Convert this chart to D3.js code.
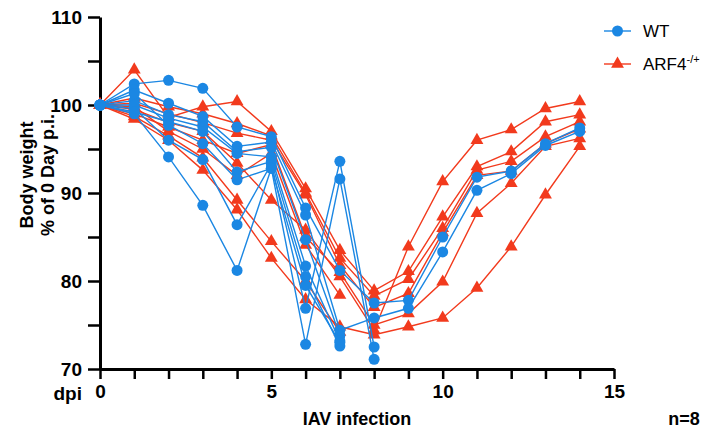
<!DOCTYPE html>
<html>
<head>
<meta charset="utf-8">
<script src="https://cdn.jsdelivr.net/npm/d3@7"></script>
<style>
  body { margin: 0; background: #fff; font-family: "Liberation Sans", Arial, Helvetica, sans-serif; }
  .axis text { font-weight: bold; font-size: 19px; fill: #000; font-family: "Liberation Sans", Arial, sans-serif; }
  .axis path, .axis line { stroke: #000; }
</style>
</head>
<body>
<svg id="chart" width="704" height="432"></svg>
<script>
// days post infection
const days = [0, 1, 2, 3, 4, 5, 6, 7, 8, 9, 10, 11, 12, 13, 14];

// WT mice, body weight (% of day 0); null = no measurement
const wtSeries = [
  [100, 102.4, 102.8, 101.9, 97.5, 96.4, 88.3, 81.2, 77.5, 77.8, 85.0, 91.8, 92.5, 95.6, 97.4],
  [100, 101.7, 100.2, 98.7, 95.3, 95.8, 87.5, 74.4, 75.8, 76.9, 83.3, 90.3, 92.2, 95.4, 97.0],
  [100, 99.0, 94.1, 88.6, 81.2, 92.8, 72.8, 91.6, 71.1, null, null, null, null, null, null],
  [100, 99.6, 96.0, 93.8, 86.4, 93.3, 76.9, 93.6, 72.5, null, null, null, null, null, null],
  [100, 100.5, 98.9, 98.1, 94.7, 95.2, 84.7, 73.8, null, null, null, null, null, null, null],
  [100, 100.0, 98.5, 97.5, 94.5, 94.1, 81.7, 73.2, null, null, null, null, null, null, null],
  [100, 99.2, 98.1, 97.0, 92.4, 93.6, 80.5, 72.6, null, null, null, null, null, null, null],
  [100, 101.3, 97.7, 95.6, 91.5, 92.8, 79.5, 73.0, null, null, null, null, null, null, null]
];

// ARF4 -/+ mice
const arfSeries = [
  [100, 99.5, 98.0, 97.0, 93.4, 89.2, 85.8, 80.5, 74.4, 83.9, 91.3, 96.0, 97.2, 99.6, 100.4],
  [100, 104.0, 98.6, 99.8, 100.4, 97.0, 90.5, 83.5, 78.9, 81.1, 87.3, 93.0, 94.7, 98.1, 98.9],
  [100, 100.8, 99.8, 99.0, 97.9, 96.5, 90.0, 82.6, 78.3, 80.2, 86.0, 92.6, 93.6, 96.4, 98.1],
  [100, 100.2, 99.0, 98.0, 96.8, 96.0, 89.8, 81.8, 77.0, 78.6, 85.5, 92.0, 92.5, 95.6, 97.3],
  [100, 99.0, 97.5, 96.0, 94.5, 95.5, 85.0, 81.0, 75.0, 76.3, 79.9, 87.7, 91.1, 95.3, 96.2],
  [100, 98.4, 96.0, 92.6, 88.1, 82.6, 77.9, 74.8, 73.9, 74.8, 75.8, 79.2, 83.9, 89.8, 95.3],
  [100, 99.8, 97.0, 95.0, 92.0, 94.5, 84.1, 78.4, null, null, null, null, null, null, null],
  [100, 98.7, 96.5, 94.0, 89.2, 84.5, 80.0, 74.2, null, null, null, null, null, null, null]
];

const yTicks = [70, 75, 80, 85, 90, 95, 100, 105, 110];
const xTicks = [0, 1, 2, 3, 4, 5, 6, 7, 8, 9, 10, 11, 12, 13, 14, 15];

const blue = "#1b87e3";
const red = "#f23a1d";

let svg = d3.select("#chart");

let xScale = d3.scaleLinear().domain([0, 15]).range([100, 614]);
let yScale = d3.scaleLinear().domain([70, 110]).range([369, 17]);

// axes
let axisY = d3.axisLeft(yScale)
  .tickValues(yTicks)
  .tickSize(12)
  .tickSizeOuter(0)
  .tickPadding(6)
  .tickFormat(d => d % 10 === 0 ? d : "");

let gy = svg.append("g")
  .attr("class", "axis")
  .attr("transform", "translate(100,0)")
  .call(axisY);
gy.select(".domain").attr("stroke-width", 3);
gy.selectAll(".tick line").attr("stroke-width", 2.5);

let axisX = d3.axisBottom(xScale)
  .tickValues(xTicks)
  .tickSize(10)
  .tickSizeOuter(0)
  .tickPadding(6)
  .tickFormat(d => d % 5 === 0 ? d : "");

let gx = svg.append("g")
  .attr("class", "axis")
  .attr("transform", "translate(0,369)")
  .call(axisX);
gx.select(".domain").attr("stroke-width", 3);
gx.selectAll(".tick line").attr("stroke-width", 2.5);

// axis titles
svg.append("text")
  .attr("x", 82).attr("y", 400)
  .attr("text-anchor", "end")
  .attr("font-weight", "bold").attr("font-size", 19)
  .text("dpi");

svg.append("text")
  .attr("x", 357).attr("y", 425)
  .attr("text-anchor", "middle")
  .attr("font-weight", "bold").attr("font-size", 18)
  .text("IAV infection");

svg.append("text")
  .attr("x", 684).attr("y", 425)
  .attr("text-anchor", "middle")
  .attr("font-weight", "bold").attr("font-size", 18)
  .text("n=8");

let yTitle = svg.append("text")
  .attr("transform", "translate(0,175) rotate(-90)")
  .attr("text-anchor", "middle")
  .attr("font-weight", "bold").attr("font-size", 18);
yTitle.append("tspan").attr("x", 0).attr("y", 33).text("Body weight");
yTitle.append("tspan").attr("x", 0).attr("y", 54).text("% of 0 Day p.i.");

// series
let line = d3.line()
  .defined(d => d.v !== null)
  .x(d => xScale(d.day))
  .y(d => yScale(d.v));

let tri = d3.symbol().type(d3.symbolTriangle).size(72);

function toPoints(values) {
  return values.map((v, i) => ({ day: days[i], v: v }));
}

function drawGroup(series, color, shape) {
  let g = svg.append("g");
  series.forEach(values => {
    let pts = toPoints(values);
    g.append("path")
      .attr("d", line(pts))
      .attr("fill", "none")
      .attr("stroke", color)
      .attr("stroke-width", 1.4);
    let valid = pts.filter(p => p.v !== null);
    if (shape === "circle") {
      g.selectAll(null).data(valid).enter().append("circle")
        .attr("cx", d => xScale(d.day))
        .attr("cy", d => yScale(d.v))
        .attr("r", 5.5)
        .attr("fill", color);
    } else {
      g.selectAll(null).data(valid).enter().append("path")
        .attr("d", tri)
        .attr("transform", d => `translate(${xScale(d.day)},${yScale(d.v)})`)
        .attr("fill", color);
    }
  });
}

drawGroup(arfSeries, red, "triangle");
drawGroup(wtSeries, blue, "circle");

// legend
let legend = svg.append("g");
legend.append("line").attr("x1", 604).attr("x2", 631).attr("y1", 31).attr("y2", 31)
  .attr("stroke", blue).attr("stroke-width", 1.4);
legend.append("circle").attr("cx", 617.5).attr("cy", 31).attr("r", 5.5).attr("fill", blue);
legend.append("text").attr("x", 643).attr("y", 37).attr("font-size", 17).text("WT");

legend.append("line").attr("x1", 604).attr("x2", 631).attr("y1", 64).attr("y2", 64)
  .attr("stroke", red).attr("stroke-width", 1.4);
legend.append("path").attr("d", tri).attr("transform", "translate(617.5,64)").attr("fill", red);
let arfLabel = legend.append("text").attr("x", 643).attr("y", 70).attr("font-size", 17);
arfLabel.append("tspan").text("ARF4");
arfLabel.append("tspan").attr("font-size", 11).attr("dy", -7).text("-/+");
</script>
</body>
</html>
